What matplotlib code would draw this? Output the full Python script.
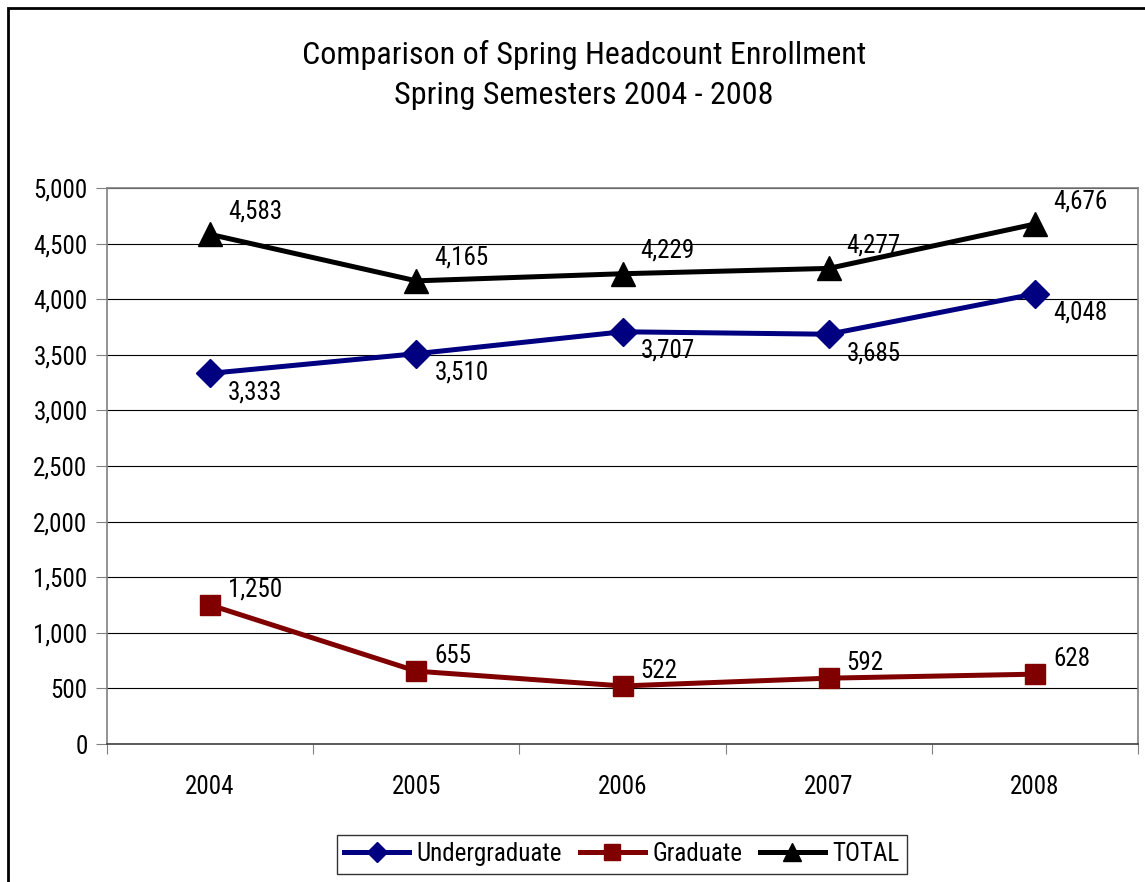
import matplotlib
matplotlib.use('Agg')
import matplotlib.pyplot as plt
from matplotlib import font_manager
from matplotlib.patches import Rectangle
from matplotlib.ticker import FuncFormatter, FixedLocator

years = ['2004', '2005', '2006', '2007', '2008']
undergrad = [3333, 3510, 3707, 3685, 4048]
graduate = [1250, 655, 522, 592, 628]
total = [4583, 4165, 4229, 4277, 4676]

# pick a narrow face if one is there, else plain Arial-like
installed = {f.name for f in font_manager.fontManager.ttflist}
narrow = next((n for n in ['Liberation Sans Narrow', 'Roboto Condensed',
                           'Open Sans Condensed', 'DejaVu Sans Condensed']
               if n in installed), None)
if narrow:
    plt.rcParams['font.family'] = [narrow, 'DejaVu Sans']
    title_fs, fs = 23, 18
else:
    plt.rcParams['font.family'] = ['Liberation Sans', 'DejaVu Sans']
    title_fs, fs = 18.5, 15

fig = plt.figure(figsize=(11.45, 8.82), dpi=100)
ax = fig.add_axes([107 / 1145, 1 - 744 / 882, 1031 / 1145, 556 / 882])

# outer chart border
fig.patches.append(Rectangle((8 / 1145, -0.05), 1.2, 1 - 8 / 882 + 0.05,
                             transform=fig.transFigure, fill=False,
                             edgecolor='black', linewidth=2))

x = list(range(len(years)))
series = [
    ('Undergraduate', undergrad, '#000080', 'D', 14, (18, -19)),
    ('Graduate', graduate, '#800000', 's', 15, (18, 15)),
    ('TOTAL', total, 'black', '^', 17, (18, 23)),
]
for name, vals, col, mk, ms, off in series:
    ax.plot(x, vals, color=col, lw=3.6, marker=mk, markersize=ms,
            markerfacecolor=col, markeredgecolor=col, label=name, zorder=3)
    for xi, v in zip(x, vals):
        ax.annotate(f'{v:,}', (xi, v), xytext=off, textcoords='offset pixels',
                    ha='left', va='center', fontsize=fs)

ax.set_xlim(-0.5, 4.5)
ax.set_ylim(0, 5000)
ax.set_yticks(range(0, 5001, 500))
ax.yaxis.set_major_formatter(FuncFormatter(lambda v, p: f'{int(v):,}'))
ax.grid(axis='y', color='black', lw=0.8)
ax.set_axisbelow(True)

ax.xaxis.set_major_locator(FixedLocator([i - 0.5 for i in range(len(years) + 1)]))
ax.xaxis.set_major_formatter(FuncFormatter(lambda v, p: ''))
ax.xaxis.set_minor_locator(FixedLocator(x))
ax.set_xticklabels(years, minor=True)
ax.tick_params(axis='x', which='major', length=7, color='#808080', direction='out')
ax.tick_params(axis='x', which='minor', length=0, pad=22, labelsize=fs)
ax.tick_params(axis='y', length=8, color='#808080', direction='out', labelsize=fs, pad=6)

for s in ['top', 'right', 'left']:
    ax.spines[s].set_color('#808080')
    ax.spines[s].set_linewidth(1.2)
ax.spines['bottom'].set_color('#404040')
ax.spines['bottom'].set_linewidth(1.2)

fig.text(584 / 1145, 1 - 55 / 882, 'Comparison of Spring Headcount Enrollment',
         ha='center', va='center', fontsize=title_fs)
fig.text(584 / 1145, 1 - 96 / 882, 'Spring Semesters 2004 - 2008',
         ha='center', va='center', fontsize=title_fs)

leg = fig.legend(loc='center', bbox_to_anchor=(622 / 1145, 1 - 854 / 882), ncol=3,
                 frameon=True, fancybox=False, edgecolor='black', fontsize=fs,
                 handlelength=2.6, handletextpad=0.3, columnspacing=0.7,
                 borderpad=0.3, markerscale=0.75)
leg.get_frame().set_linewidth(1)

fig.savefig('out.png', dpi=100)
